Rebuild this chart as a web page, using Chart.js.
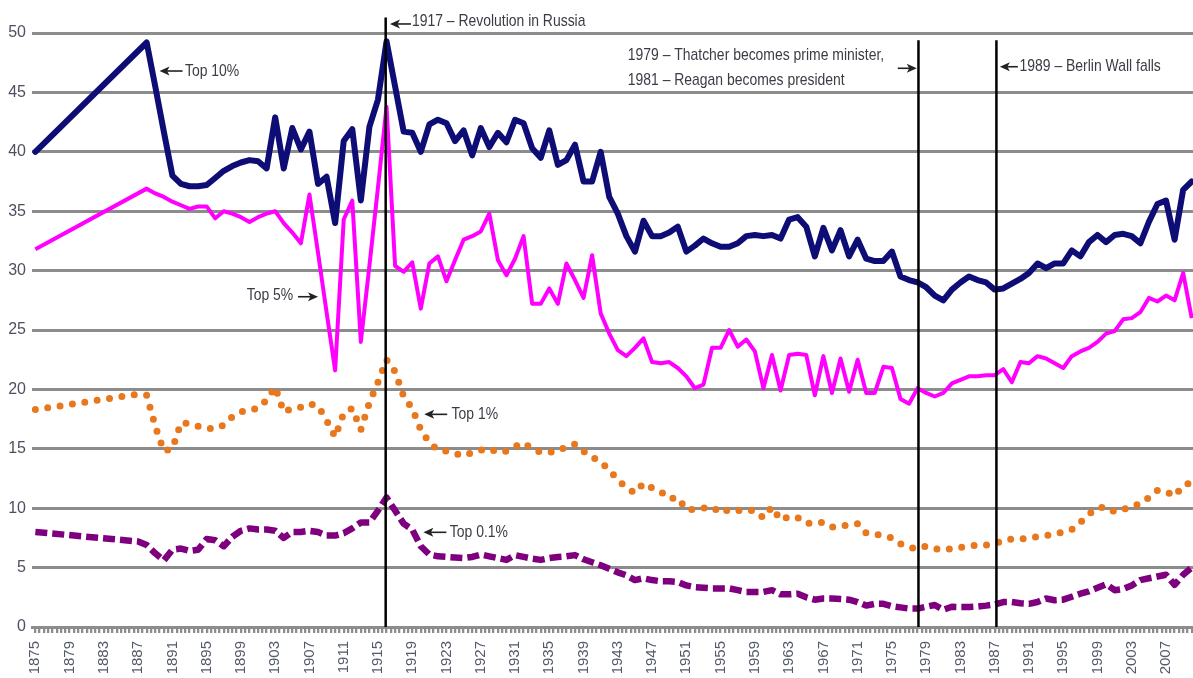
<!DOCTYPE html>
<html>
<head>
<meta charset="utf-8">
<title>Top income shares 1875-2010</title>
<script src="https://cdn.jsdelivr.net/npm/chart.js@4.4.1/dist/chart.umd.min.js"></script>
<style>
  html, body { margin: 0; padding: 0; background: #fff; overflow: hidden; }
  #wrap { width: 1193px; height: 678px; position: relative; }
</style>
</head>
<body>
<div id="wrap"><canvas id="shares"></canvas></div>
<script>
// years on the x axis, one value per year (null = no figure for that year)
var firstYear = 1875, lastYear = 2010;
var years = [];
for (var yr = firstYear; yr <= lastYear; yr++) years.push(yr);

// share of income, %  (rows of ten years, first year of the row in the comment)
var top10 = [
  /*1875*/ 40.0, null, null, null, null, null, null, null, null, null,
  /*1885*/ null, null, null, 49.2, 45.5, 41.7, 38.0, 37.3, 37.1, 37.1,
  /*1895*/ 37.2, 37.8, 38.4, 38.8, 39.1, 39.3, 39.2, 38.6, 42.9, 38.6,
  /*1905*/ 42.0, 40.2, 41.7, 37.3, 37.9, 34.0, 40.9, 41.9, 35.9, 42.1,
  /*1915*/ 44.4, 49.3, 45.5, 41.7, 41.6, 40.0, 42.3, 42.7, 42.4, 40.9,
  /*1925*/ 41.8, 39.7, 42.0, 40.4, 41.6, 40.8, 42.7, 42.4, 40.3, 39.5,
  /*1935*/ 41.8, 38.9, 39.3, 40.6, 37.5, 37.5, 40.0, 36.2, 34.8, 32.9,
  /*1945*/ 31.6, 34.2, 32.9, 32.9, 33.2, 33.7, 31.6, 32.1, 32.7, 32.3,
  /*1955*/ 32.0, 32.0, 32.3, 32.9, 33.0, 32.9, 33.0, 32.7, 34.3, 34.5,
  /*1965*/ 33.7, 31.2, 33.6, 31.7, 33.4, 31.2, 32.6, 31.0, 30.8, 30.8,
  /*1975*/ 31.6, 29.5, 29.2, 29.0, 28.6, 27.9, 27.5, 28.4, 29.0, 29.5,
  /*1985*/ 29.2, 29.0, 28.4, 28.5, 28.9, 29.3, 29.8, 30.6, 30.2, 30.6,
  /*1995*/ 30.6, 31.7, 31.2, 32.4, 33.0, 32.4, 33.0, 33.1, 32.9, 32.3,
  /*2005*/ 34.1, 35.6, 35.9, 32.6, 36.8, 37.5
];
var top5 = [
  /*1875*/ 31.8, null, null, null, null, null, null, null, null, null,
  /*1885*/ null, null, null, 36.9, 36.5, 36.2, 35.8, 35.5, 35.2, 35.4,
  /*1895*/ 35.4, 34.4, 35.0, 34.8, 34.5, 34.1, 34.5, 34.8, 35.0, 34.0,
  /*1905*/ 33.2, 32.3, 36.4, 31.5, 26.5, 21.6, 34.3, 35.9, 24.0, 30.4,
  /*1915*/ 37.0, 43.8, 30.4, 29.9, 30.7, 26.8, 30.6, 31.2, 29.1, 30.9,
  /*1925*/ 32.6, 32.9, 33.3, 34.8, 30.9, 29.6, 31.0, 32.9, 27.2, 27.2,
  /*1935*/ 28.5, 27.2, 30.6, 29.2, 27.7, 31.3, 26.4, 24.7, 23.3, 22.8,
  /*1945*/ 23.5, 24.3, 22.3, 22.2, 22.3, 21.8, 21.1, 20.1, 20.4, 23.5,
  /*1955*/ 23.5, 25.0, 23.6, 24.2, 23.2, 20.1, 22.9, 19.9, 22.9, 23.0,
  /*1965*/ 22.9, 19.5, 22.8, 19.7, 22.6, 19.8, 22.5, 19.7, 19.7, 21.9,
  /*1975*/ 21.8, 19.2, 18.8, 20.1, 19.7, 19.4, 19.7, 20.5, 20.8, 21.1,
  /*1985*/ 21.1, 21.2, 21.2, 21.7, 20.6, 22.3, 22.2, 22.8, 22.6, 22.2,
  /*1995*/ 21.8, 22.8, 23.2, 23.5, 24.0, 24.7, 24.9, 25.9, 26.0, 26.5,
  /*2005*/ 27.7, 27.4, 27.9, 27.5, 29.8, 26.0
];
var top1 = [
  /*1875*/ 18.3, null, null, null, null, null, null, null, null, null,
  /*1885*/ null, null, 19.6, 19.5, 16.9, 14.8, 15.0, 17.2, 17.1, 16.9,
  /*1895*/ 16.7, 16.7, 17.0, 17.7, 18.1, 18.3, 18.4, 19.1, 20.2, 18.1,
  /*1905*/ 18.4, 18.5, 18.8, 18.6, 17.4, 16.0, 18.0, 18.4, 16.6, 18.9,
  /*1915*/ 20.6, 22.5, 21.5, 19.4, 18.4, 16.6, 15.5, 14.9, 14.8, 14.6,
  /*1925*/ 14.4, 14.7, 14.9, 15.0, 14.7, 14.8, 15.2, 15.5, 15.0, 14.7,
  /*1935*/ 14.7, 14.8, 15.2, 15.4, 14.8, 14.3, 13.9, 13.2, 12.4, 11.7,
  /*1945*/ 11.3, 12.1, 11.7, 11.4, 10.8, 10.9, 9.9, 9.9, 10.0, 10.1,
  /*1955*/ 9.6, 9.9, 9.8, 9.8, 9.8, 9.2, 10.1, 9.0, 9.3, 9.2,
  /*1965*/ 8.7, 8.8, 8.8, 8.4, 8.5, 8.6, 8.7, 7.9, 7.8, 7.7,
  /*1975*/ 7.5, 7.0, 6.7, 6.6, 6.8, 6.6, 6.5, 6.6, 6.7, 6.8,
  /*1985*/ 6.9, 6.9, 7.0, 7.3, 7.4, 7.4, 7.5, 7.6, 7.7, 7.8,
  /*1995*/ 8.0, 8.2, 8.8, 9.5, 10.0, 10.1, 9.7, 9.9, 10.1, 10.4,
  /*2005*/ 10.9, 11.5, 11.4, 11.0, 11.9, 12.2
];
var top01 = [
  /*1875*/ 8.0, null, null, null, null, null, null, null, null, null,
  /*1885*/ null, null, 7.2, 6.9, 6.2, 5.6, 6.5, 6.6, 6.4, 6.5,
  /*1895*/ 7.4, 7.3, 6.8, 7.6, 8.1, 8.3, 8.2, 8.2, 8.1, 7.5,
  /*1905*/ 8.0, 8.0, 8.1, 8.0, 7.7, 7.7, 7.9, 8.3, 8.8, 8.8,
  /*1915*/ 9.8, 10.9, 9.8, 8.7, 8.2, 6.8, 6.1, 5.95, 5.9, 5.85,
  /*1925*/ 5.8, 5.9, 6.1, 5.95, 5.8, 5.65, 6.05, 5.9, 5.75, 5.65,
  /*1935*/ 5.8, 5.9, 5.95, 6.05, 5.7, 5.45, 5.2, 4.9, 4.6, 4.35,
  /*1945*/ 3.95, 4.1, 3.95, 3.85, 3.85, 3.8, 3.5, 3.35, 3.3, 3.25,
  /*1955*/ 3.25, 3.25, 3.1, 2.95, 2.95, 2.95, 3.1, 2.75, 2.75, 2.8,
  /*1965*/ 2.5, 2.3, 2.4, 2.4, 2.35, 2.3, 2.1, 1.8, 1.95, 1.95,
  /*1975*/ 1.75, 1.65, 1.55, 1.55, 1.7, 1.85, 1.45, 1.7, 1.68, 1.68,
  /*1985*/ 1.72, 1.8, 1.9, 2.1, 2.1, 2.0, 1.95, 2.1, 2.4, 2.25,
  /*1995*/ 2.3, 2.55, 2.8, 3.0, 3.3, 3.6, 3.1, 3.2, 3.5, 3.95,
  /*2005*/ 4.1, 4.25, 4.4, 3.55, 4.4, 5.0
];

// y axis ticks
var yTicks = [0, 5, 10, 15, 20, 25, 30, 35, 40, 45, 50];

// events marked with a vertical line (year position on the axis, top of the line in %)
var markLines = [
  { year: 1915.9, top: 51.3 },
  { year: 1978.1, top: 49.4 },
  { year: 1987.2, top: 49.4 }
];
// arrows: tip position, which way they point, shaft length in px
var arrows = [
  { year: 1916.4, value: 50.76, dir: 'left', len: 21 },
  { year: 1977.9, value: 47.03, dir: 'right', len: 19 },
  { year: 1987.6, value: 47.16, dir: 'left', len: 18 },
  { year: 1889.5, value: 46.8, dir: 'left', len: 23 },
  { year: 1908.0, value: 27.8, dir: 'right', len: 20 },
  { year: 1920.4, value: 17.9, dir: 'left', len: 23 },
  { year: 1920.3, value: 7.97, dir: 'left', len: 23 }
];
// texts: start (or end for align right) of the text, middle of first line
var notes = [
  { lines: ['1917 \u2013 Revolution in Russia'], year: 1918.96, value: 50.97, align: 'left' },
  { lines: ['1979 \u2013 Thatcher becomes prime minister,', '1981 \u2013 Reagan becomes president'], year: 1944.16, value: 48.1, align: 'left' },
  { lines: ['1989 \u2013 Berlin Wall falls'], year: 1989.9, value: 47.16, align: 'left' },
  { lines: ['Top 10%'], year: 1892.47, value: 46.8, align: 'left' },
  { lines: ['Top 5%'], year: 1905.1, value: 27.95, align: 'right' },
  { lines: ['Top 1%'], year: 1923.59, value: 17.93, align: 'left' },
  { lines: ['Top 0.1%'], year: 1923.39, value: 7.99, align: 'left' }
];

function toPoints(vals) {
  var pts = [];
  for (var i = 0; i < years.length; i++) pts.push({ x: years[i], y: vals[i] });
  return pts;
}

// tick marks every half year, labels every 4 years
var xTickValues = [];
for (var t = firstYear; t <= lastYear; t += 0.5) xTickValues.push(t);

function drawArrow(ctx, x, y, dir, len) {
  var s = dir === 'left' ? 1 : -1;
  ctx.lineWidth = 1.6;
  ctx.beginPath();
  ctx.moveTo(x + s * 7, y);
  ctx.lineTo(x + s * len, y);
  ctx.stroke();
  ctx.beginPath();
  ctx.moveTo(x, y);
  ctx.lineTo(x + s * 10, y - 4.5);
  ctx.lineTo(x + s * 7.5, y);
  ctx.lineTo(x + s * 10, y + 4.5);
  ctx.closePath();
  ctx.fill();
}

var notesPlugin = {
  id: 'notes',
  afterDraw: function (chart) {
    var ctx = chart.ctx;
    var xs = chart.scales.x, ys = chart.scales.y;
    ctx.save();
    ctx.strokeStyle = '#000';
    ctx.lineWidth = 2.5;
    markLines.forEach(function (m) {
      var x = xs.getPixelForValue(m.year);
      ctx.beginPath();
      ctx.moveTo(x, ys.getPixelForValue(m.top));
      ctx.lineTo(x, ys.getPixelForValue(0));
      ctx.stroke();
    });
    ctx.strokeStyle = '#222';
    ctx.fillStyle = '#222';
    arrows.forEach(function (a) {
      drawArrow(ctx, xs.getPixelForValue(a.year), ys.getPixelForValue(a.value), a.dir, a.len);
    });
    ctx.fillStyle = '#3d3b45';
    ctx.font = '17px "Liberation Sans", Arial, sans-serif';
    ctx.textBaseline = 'middle';
    notes.forEach(function (n) {
      var x = xs.getPixelForValue(n.year);
      var y = ys.getPixelForValue(n.value);
      n.lines.forEach(function (line, i) {
        ctx.save();
        ctx.translate(x, y + i * 24.4);
        ctx.scale(0.82, 1);
        ctx.textAlign = n.align;
        ctx.fillText(line, 0, 0);
        ctx.restore();
      });
    });
    ctx.restore();
  }
};

var ctx = document.getElementById('shares');
var chart = new Chart(ctx, {
  type: 'line',
  data: {
    datasets: [{
      label: 'Top 10%',
      data: toPoints(top10),
      borderColor: '#0d0d75',
      borderWidth: 6,
      borderJoinStyle: 'round',
      borderCapStyle: 'round'
    }, {
      label: 'Top 5%',
      data: toPoints(top5),
      borderColor: '#ff00ff',
      borderWidth: 4,
      borderJoinStyle: 'round'
    }, {
      label: 'Top 1%',
      data: toPoints(top1),
      borderColor: '#e8781e',
      borderWidth: 7,
      borderDash: [0, 12.5],
      borderCapStyle: 'round',
      borderJoinStyle: 'round'
    }, {
      label: 'Top 0.1%',
      data: toPoints(top01),
      borderColor: '#7f007f',
      borderWidth: 6.5,
      borderDash: [12, 5],
      borderJoinStyle: 'round'
    }]
  },
  options: {
    responsive: true,
    maintainAspectRatio: false,
    animation: false,
    spanGaps: true,
    elements: { point: { radius: 0 }, line: { tension: 0 } },
    layout: { padding: { top: 33, left: 0, right: 0, bottom: 0 } },
    plugins: { legend: { display: false }, tooltip: { enabled: false } },
    scales: {
      x: {
        type: 'linear',
        min: 1874.61,
        max: 2010.15,
        afterBuildTicks: function (scale) {
          scale.ticks = xTickValues.map(function (v) { return { value: v }; });
        },
        afterFit: function (scale) {
          scale.height = 51;
          scale.paddingLeft = 0;
          scale.paddingRight = 0;
        },
        grid: { display: true, drawOnChartArea: false, drawTicks: true, tickLength: 6, color: '#8c8c8c', lineWidth: 2.3 },
        border: { display: true, color: '#8c8c8c', width: 3 },
        ticks: {
          autoSkip: false,
          minRotation: 90,
          maxRotation: 90,
          padding: 8,
          color: '#555a68',
          font: { family: '"Liberation Sans", Arial, sans-serif', size: 15 },
          callback: function (v) {
            if (Number.isInteger(v) && (v - firstYear) % 4 === 0) return String(v);
            return '';
          }
        }
      },
      y: {
        min: 0,
        max: 50,
        afterBuildTicks: function (scale) {
          scale.ticks = yTicks.map(function (v) { return { value: v }; });
        },
        afterFit: function (scale) { scale.width = 32; },
        grid: { color: '#8c8c8c', lineWidth: 3, drawTicks: false },
        border: { display: false },
        ticks: {
          padding: 6,
          color: '#4e5060',
          font: { family: '"Liberation Sans", Arial, sans-serif', size: 16 }
        }
      }
    }
  },
  plugins: [notesPlugin]
});
</script>
</body>
</html>
